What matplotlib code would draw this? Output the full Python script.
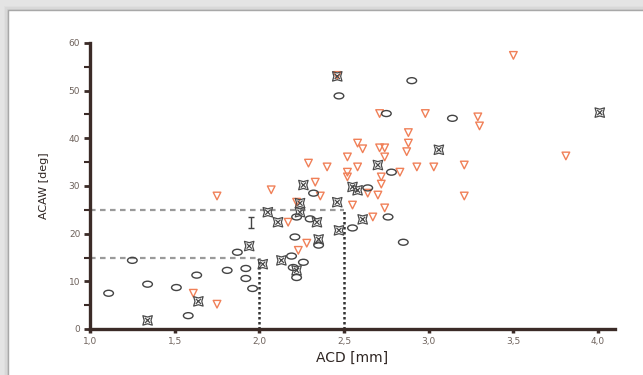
import matplotlib
matplotlib.use("Agg")
import matplotlib.pyplot as plt
from matplotlib.path import Path
from matplotlib.patches import Rectangle
from matplotlib.transforms import Affine2D
from matplotlib.ticker import MultipleLocator, FuncFormatter

# ---- data ----
circ_x = [1.11, 1.25, 1.34, 1.51, 1.58, 1.63, 1.81, 1.87, 1.92, 1.92, 1.96, 2.19, 2.26, 2.20,
          2.22, 2.21, 2.22, 2.30, 2.32, 2.35, 2.55, 2.76, 2.85, 2.78, 2.64, 2.47, 2.90, 2.75, 3.14]
circ_y = [7.5, 14.4, 9.4, 8.7, 2.8, 11.3, 12.3, 16.1, 12.7, 10.6, 8.5, 15.3, 14.0, 12.9,
          10.8, 19.3, 23.5, 23.1, 28.5, 17.6, 21.2, 23.5, 18.2, 32.9, 29.6, 48.9, 52.1, 45.2, 44.2]

x_x = [1.34, 1.64, 1.94, 2.02, 2.05, 2.11, 2.24, 2.34, 2.13, 2.22, 2.35, 2.26, 2.24, 2.46,
       2.47, 2.61, 2.55, 2.58, 2.70, 3.06, 4.01, 2.46]
x_y = [1.8, 5.8, 17.4, 13.6, 24.5, 22.4, 24.5, 22.4, 14.4, 12.3, 18.8, 30.2, 26.4, 26.6,
       20.7, 23.0, 29.8, 29.1, 34.4, 37.6, 45.4, 53.0]

tri_x = [1.61, 1.75, 1.75, 2.07, 2.17, 2.28, 2.23, 2.22, 2.36, 2.33, 2.29, 2.40, 2.52, 2.52,
         2.52, 2.55, 2.58, 2.61, 2.58, 2.67, 2.70, 2.64, 2.71, 2.74, 2.74, 2.72, 2.72, 2.74,
         2.83, 2.87, 2.88, 2.88, 2.93, 3.03, 3.21, 3.21, 2.98, 2.71, 3.29, 3.30, 3.81, 3.50, 2.46]
tri_y = [7.5, 5.2, 27.9, 29.2, 22.4, 18.0, 16.5, 26.6, 27.9, 30.8, 34.8, 34.0, 36.1, 32.9,
         31.9, 26.0, 39.0, 37.8, 34.0, 23.5, 28.1, 28.5, 38.0, 38.0, 36.1, 31.9, 30.4, 25.4,
         32.9, 37.2, 41.2, 39.0, 34.0, 34.0, 34.4, 27.9, 45.2, 45.2, 44.5, 42.6, 36.3, 57.4, 53.2]

err_x = [1.95]
err_y = [22.35]
err_half = [1.1]

ref_h = [25, 15]      # horizontal guide levels
ref_v = [2.5, 2.0]    # vertical guide positions

x_ticks = [1.0, 1.5, 2.0, 2.5, 3.0, 3.5, 4.0]
y_ticks = [0, 10, 20, 30, 40, 50, 60]

# ---- figure ----
fig = plt.figure(figsize=(6.43, 3.75), dpi=100)
fig.patch.set_facecolor('#e4e4e4')
for i, a in enumerate([0.05, 0.08, 0.12]):
    d = (3 - i) * 1.5
    fig.patches.append(Rectangle(((8 - d) / 643, 0), 1, 1 - (10 - d) / 375,
                                 transform=fig.transFigure, facecolor='#909090',
                                 alpha=a, edgecolor='none', zorder=0))
fig.patches.append(Rectangle((8 / 643, -0.01), 1, 1 - 10 / 375 + 0.01, transform=fig.transFigure,
                             facecolor='white', edgecolor='#a8a8a8', lw=1.0, zorder=1))

ax = fig.add_axes([90 / 643, 1 - 329 / 375, (615 - 90) / 643, (329 - 43) / 375])
ax.set_facecolor('none')
ax.set_zorder(2)

ax.set_xlim(1.0, 4.1)
ax.set_ylim(0, 60)

spine_c = '#3b2b27'
for s in ['top', 'right']:
    ax.spines[s].set_visible(False)
for s in ['left', 'bottom']:
    ax.spines[s].set_color(spine_c)
    ax.spines[s].set_linewidth(2.4)

ax.set_xticks(x_ticks)
ax.set_yticks(y_ticks)
ax.yaxis.set_minor_locator(MultipleLocator(5))
comma = FuncFormatter(lambda v, p: (f"{v:.1f}").replace('.', ','))
ax.xaxis.set_major_formatter(comma)
ax.tick_params(axis='both', which='major', direction='out', length=4, width=2.0,
               color=spine_c, labelsize=6.5, labelcolor='#6e625c', pad=3)
ax.tick_params(axis='y', which='minor', direction='out', length=4, width=1.5, color=spine_c)
ax.tick_params(axis='x', which='major', length=3, width=2.5)

ax.set_xlabel('ACD [mm]', fontsize=10, color='#2e2522', labelpad=3, family='DejaVu Sans')
ax.set_ylabel('ACAW [deg]', fontsize=8, color='#2e2522', labelpad=14, family='DejaVu Sans')

# guides
ax.plot([1.0, ref_v[0]], [ref_h[0], ref_h[0]], color='#9a9a9a', lw=1.6, ls=(0, (2.5, 2)), zorder=1)
ax.plot([1.0, ref_v[1]], [ref_h[1], ref_h[1]], color='#9a9a9a', lw=1.6, ls=(0, (2.5, 2)), zorder=1)
ax.plot([ref_v[0], ref_v[0]], [0, ref_h[0]], color='#333333', lw=1.8, ls=(0, (1, 1)), zorder=1)
ax.plot([ref_v[1], ref_v[1]], [0, ref_h[1]], color='#333333', lw=1.8, ls=(0, (1, 1)), zorder=1)

# markers
ell = Path.unit_circle().transformed(Affine2D().scale(1.0, 0.62))
k = 0.72
verts = [(-1, -1), (0, -k), (1, -1), (k, 0), (1, 1), (0, k), (-1, 1), (-k, 0), (-1, -1),
         (-0.55, -0.55), (0.55, 0.55), (0.55, -0.55), (-0.55, 0.55)]
codes = [Path.MOVETO] + [Path.LINETO] * 7 + [Path.CLOSEPOLY,
         Path.MOVETO, Path.LINETO, Path.MOVETO, Path.LINETO]
star = Path(verts, codes)

ax.scatter(tri_x, tri_y, marker='v', s=30, facecolors='none', edgecolors='#f08058',
           linewidths=1.0, zorder=3)
ax.scatter(circ_x, circ_y, marker=ell, s=48, facecolors='none', edgecolors='#444444',
           linewidths=1.0, zorder=4)
ax.scatter(x_x, x_y, marker=star, s=46, facecolors='none', edgecolors='#4a4a4a',
           linewidths=0.9, zorder=5)

ax.errorbar(err_x, err_y, yerr=err_half, fmt='none', ecolor='#444444', elinewidth=1.0,
            capsize=2.5, capthick=1.0, zorder=4)

fig.savefig('out.png', dpi=100)
